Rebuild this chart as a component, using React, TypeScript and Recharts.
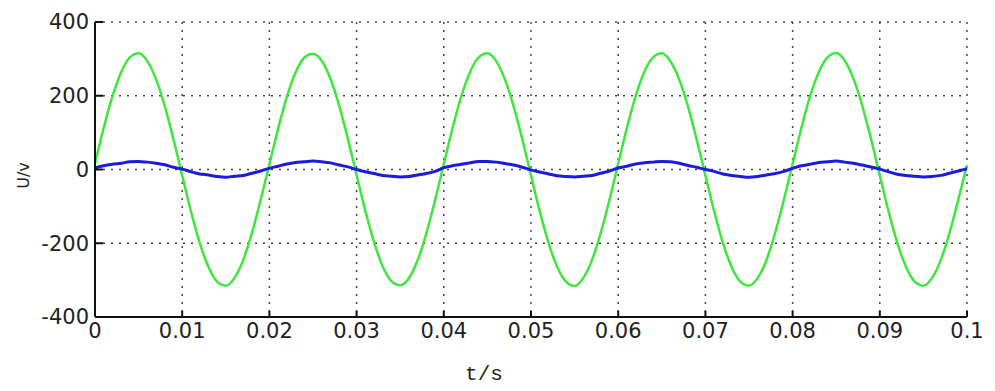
import { LineChart, Line, XAxis, YAxis, CartesianGrid, Label } from 'recharts'

// sample step of the scope trace, seconds
const STEP = 0.001

// green trace (grid voltage), read every 1 ms
const gridVoltage = [
  16, 113, 198, 264, 304, 315, 294, 245, 172, 82, -16, -113, -198, -264, -304, -315, -294, -245, -172, -82,
  14, 111, 197, 263, 303, 314, 295, 246, 173, 83, -15, -112, -197, -263, -303, -314, -295, -246, -173, -83,
  15, 112, 198, 264, 304, 315, 294, 245, 172, 82, -16, -113, -198, -264, -304, -316, -294, -245, -172, -82,
  16, 113, 199, 265, 304, 315, 293, 244, 171, 81, -16, -113, -198, -264, -304, -315, -294, -246, -172, -82,
  15, 112, 198, 264, 304, 316, 295, 245, 172, 82, -16, -113, -198, -264, -304, -315, -294, -245, -172, -82,
  12,
]

// blue trace, read every 1 ms
const outputVoltage = [
  4, 10, 14, 17, 21, 22, 20, 17, 13, 6, 1, -6, -12, -15, -19, -21, -18, -16, -10, -4,
  3, 9, 15, 19, 21, 23, 21, 18, 12, 7, 0, -6, -11, -16, -18, -20, -19, -15, -11, -5,
  5, 10, 14, 18, 22, 22, 20, 16, 12, 6, -1, -7, -12, -17, -19, -20, -18, -16, -10, -4,
  4, 9, 15, 18, 20, 22, 21, 17, 11, 6, 0, -5, -12, -16, -19, -21, -19, -15, -11, -5,
  3, 10, 14, 19, 21, 23, 20, 17, 12, 7, 1, -6, -13, -16, -18, -20, -19, -16, -10, -4,
  2,
]

const xTicks = [0, 0.01, 0.02, 0.03, 0.04, 0.05, 0.06, 0.07, 0.08, 0.09, 0.1]
const yTicks = [-400, -200, 0, 200, 400]

const data = gridVoltage.map((g, i) => ({
  t: i * STEP,
  g,
  b: outputVoltage[i],
}))

const tickFont = { fontFamily: 'DejaVu Sans', fontSize: 21, fill: '#222' }
const frame = { stroke: '#111', strokeWidth: 2 }

function XTitle(props: any) {
  const vb = props.viewBox
  return (
    <text
      x={vb.x + vb.width / 2 - 47}
      y={vb.y + 63}
      textAnchor="middle"
      fontFamily="Liberation Mono"
      fontSize={21}
      fill="#222"
    >
      t/s
    </text>
  )
}

function YTitle(props: any) {
  const vb = props.viewBox
  const x = vb.x + 13
  const y = vb.y + vb.height / 2 + 6
  return (
    <text
      x={x}
      y={y}
      transform={`rotate(-90 ${x} ${y})`}
      textAnchor="middle"
      dominantBaseline="central"
      fontFamily="DejaVu Sans"
      fontSize={16}
      fill="#222"
    >
      U/v
    </text>
  )
}

export default function App() {
  return (
    <div style={{ position: 'absolute', left: 0, top: 0, background: '#fff' }}>
      <LineChart width={995} height={391} data={data} margin={{ top: 22, right: 28, bottom: 4, left: 10 }}>
        <CartesianGrid stroke="#444" strokeDasharray="2 6" strokeWidth={1.5} />
        <XAxis
          dataKey="t"
          type="number"
          domain={[0, 0.1]}
          ticks={xTicks}
          tickFormatter={(v: number) => String(v)}
          height={70}
          tickSize={-6}
          tickMargin={12}
          tick={tickFont}
          axisLine={frame}
          tickLine={frame}
        >
          <Label content={XTitle} />
        </XAxis>
        <XAxis
          xAxisId="top"
          orientation="top"
          type="number"
          domain={[0, 0.1]}
          ticks={xTicks}
          height={0}
          tickSize={-6}
          tick={false}
          axisLine={frame}
          tickLine={frame}
        />
        <YAxis
          type="number"
          domain={[-400, 400]}
          ticks={yTicks}
          width={85}
          tickSize={-8}
          tickMargin={14}
          tick={tickFont}
          axisLine={frame}
          tickLine={frame}
        >
          <Label content={YTitle} />
        </YAxis>
        <YAxis
          yAxisId="right"
          orientation="right"
          type="number"
          domain={[-400, 400]}
          ticks={yTicks}
          width={0}
          tickSize={-8}
          tick={false}
          axisLine={frame}
          tickLine={frame}
        />
        <Line
          type="monotone"
          dataKey="g"
          stroke="#3ee63e"
          strokeWidth={2.5}
          dot={false}
          isAnimationActive={false}
        />
        <Line
          type="monotone"
          dataKey="b"
          stroke="#1a1ae0"
          strokeWidth={3}
          dot={false}
          isAnimationActive={false}
        />
      </LineChart>
    </div>
  )
}
